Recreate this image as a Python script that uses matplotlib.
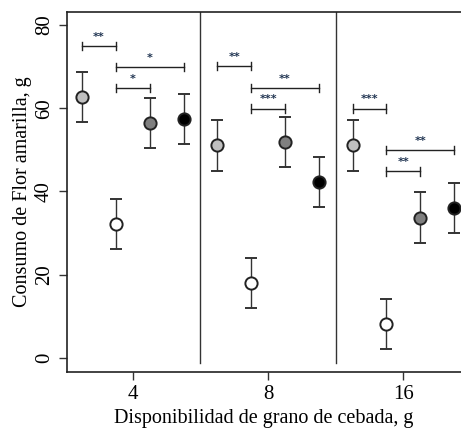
import numpy as np
import matplotlib
matplotlib.use("Agg")
import matplotlib.pyplot as plt

plt.rcParams['font.family'] = ['Liberation Serif', 'DejaVu Serif']

# Data
groups = ['4', '8', '16']
series_colors = ['#c0c0c0', '#ffffff', '#7f7f7f', '#000000']
light = [62.7, 51.1, 51.1]
light_err = [6.1, 6.1, 6.1]
white = [32.1, 18.1, 8.1]
white_err = [6.0, 6.0, 6.0]
dark = [56.5, 51.8, 33.7]
dark_err = [6.0, 6.0, 6.1]
black = [57.4, 42.2, 36.0]
black_err = [6.0, 6.0, 6.0]

# significance brackets: group index, from series, to series, height, label
br_group = [0, 0, 0, 1, 1, 1, 2, 2, 2]
br_from = [0, 1, 1, 0, 1, 1, 0, 1, 1]
br_to = [1, 3, 2, 1, 3, 2, 1, 3, 2]
br_y = [75.0, 69.9, 64.8, 70.2, 64.8, 59.9, 59.9, 50.0, 44.8]
br_label = ['**', '*', '*', '**', '**', '***', '***', '**', '**']

offsets = [-0.375, -0.125, 0.125, 0.375]


def main():
    fig = plt.figure(figsize=(4.61, 4.28), dpi=100)
    ax = fig.add_axes([0.1453, 0.1315, 1 - 0.1453, 0.971 - 0.1315])

    x = np.arange(1, len(groups) + 1)
    means = [light, white, dark, black]
    errs = [light_err, white_err, dark_err, black_err]
    for i in range(4):
        ax.errorbar(x + offsets[i], means[i], yerr=errs[i], fmt='o',
                    ms=8.8, mfc=series_colors[i], mec='#222222', mew=1.4,
                    ecolor='#333333', elinewidth=1.0, capsize=4, capthick=1.0,
                    zorder=3)

    # group separators
    for s in [1.5, 2.5]:
        ax.plot([s, s], [-1.3, 83], color='#333333', lw=1.0)

    # significance brackets
    for g, a, b, y, lab in zip(br_group, br_from, br_to, br_y, br_label):
        x1 = x[g] + offsets[a]
        x2 = x[g] + offsets[b]
        ax.plot([x1, x2], [y, y], color='#222222', lw=1.0)
        ax.plot([x1, x1], [y - 1.0, y + 1.0], color='#222222', lw=1.0)
        ax.plot([x2, x2], [y - 1.0, y + 1.0], color='#222222', lw=1.0)
        ax.text((x1 + x2) / 2, y + 1.0, lab, ha='center', va='bottom',
                fontsize=8, fontweight='bold', color='#1f3350',
                family=['DejaVu Sans'])

    ax.set_xlim(0.513, 3.427)
    ax.set_ylim(-3.3, 83)
    ax.set_xticks(x)
    ax.set_xticklabels(groups, fontsize=15)
    ax.set_yticks([0, 20, 40, 60, 80])
    ax.set_yticklabels(['0', '20', '40', '60', '80'], fontsize=15,
                       rotation=90, va='center')
    ax.tick_params(length=6, width=1.0, color='#333333')
    ax.spines['right'].set_visible(False)
    for sp in ['left', 'bottom', 'top']:
        ax.spines[sp].set_linewidth(1.2)
        ax.spines[sp].set_color('#222222')

    ax.set_xlabel('Disponibilidad de grano de cebada, g', fontsize=14.5)
    ax.set_ylabel('Consumo de Flor amarilla, g', fontsize=14.5, labelpad=2)

    fig.savefig('out.png', dpi=100)


if __name__ == "__main__":
    main()
